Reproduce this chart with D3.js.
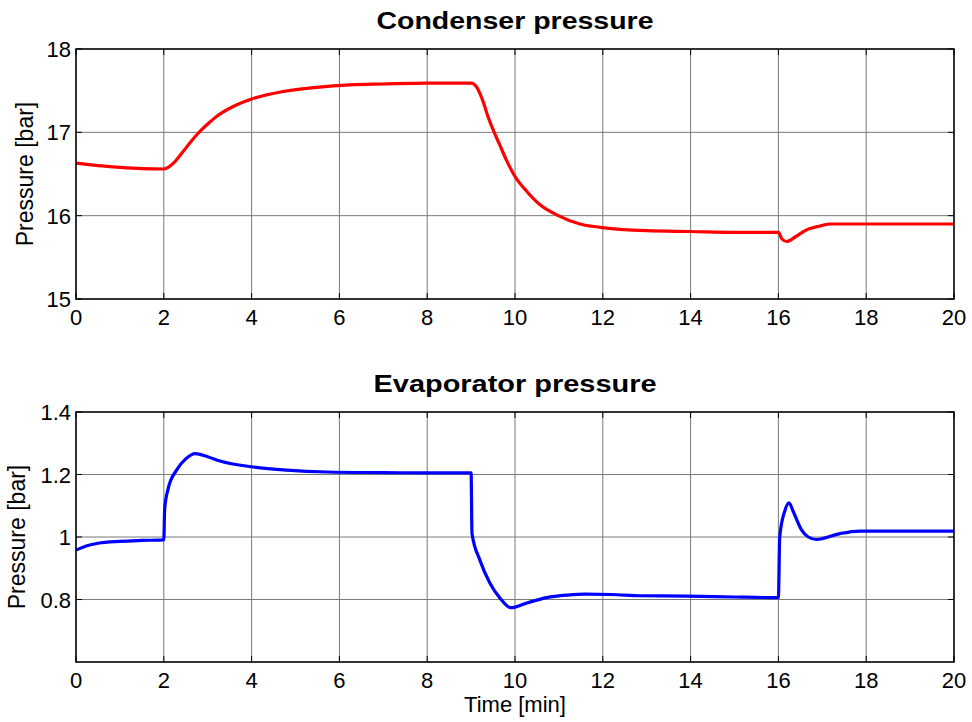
<!DOCTYPE html>
<html>
<head>
<meta charset="utf-8">
<script src="https://cdn.jsdelivr.net/npm/d3@7"></script>
<style>
  body { margin: 0; background: #fff; }
  svg { display: block; font-family: "Liberation Sans", Arial, sans-serif; }
</style>
</head>
<body>
<svg id="chart" width="972" height="722"></svg>
<script>
// condenser pressure [bar] vs time [min]
var condT = [0, 0.5, 1, 1.5, 2, 2.1, 2.22, 2.44, 2.62, 2.82, 3.0, 3.2, 3.58, 4.0, 4.72, 5.48, 6.24, 7, 8, 9,
  9.13, 9.28, 9.39, 9.51, 9.66, 9.81, 10.0, 10.27, 10.57, 10.95, 11.48, 11.94, 13, 14, 15, 16,
  16.08, 16.19, 16.4, 16.64, 16.9, 17.17, 17.5, 18, 19, 20];
var condP = [16.63, 16.60, 16.58, 16.565, 16.56, 16.58, 16.63, 16.77, 16.89, 17.01, 17.10, 17.19, 17.31, 17.40, 17.49, 17.54, 17.57, 17.58, 17.59, 17.59,
  17.54, 17.36, 17.18, 17.02, 16.84, 16.66, 16.47, 16.29, 16.13, 16.01, 15.90, 15.86, 15.82, 15.81, 15.80, 15.80,
  15.72, 15.69, 15.75, 15.83, 15.87, 15.90, 15.90, 15.90, 15.90, 15.90];

// evaporator pressure [bar] vs time [min]
var evapT = [0, 0.25, 0.5, 1, 1.5, 2, 2.02, 2.1, 2.29, 2.5, 2.71, 3.0, 3.28, 4.04, 4.8, 5.71, 7, 8, 9,
  9.02, 9.2, 9.43, 9.66, 9.9, 10.27, 10.72, 11.2, 11.6, 12.2, 12.85, 13.9, 15, 16,
  16.03, 16.15, 16.24, 16.34, 16.53, 16.68, 16.87, 17.4, 17.86, 19, 20];
var evapP = [0.958, 0.972, 0.980, 0.986, 0.989, 0.991, 1.09, 1.155, 1.214, 1.25, 1.267, 1.257, 1.243, 1.224, 1.214, 1.208, 1.206, 1.205, 1.205,
  1.012, 0.926, 0.852, 0.804, 0.774, 0.789, 0.806, 0.814, 0.817, 0.816, 0.812, 0.811, 0.808, 0.806,
  1.0, 1.085, 1.109, 1.081, 1.022, 1.0, 0.992, 1.011, 1.019, 1.019, 1.019];

var xTicks = [0, 2, 4, 6, 8, 10, 12, 14, 16, 18, 20];
var condTicks = [15, 16, 17, 18];
var evapTicks = [0.8, 1, 1.2, 1.4];

var svg = d3.select("#chart");
var x = d3.scaleLinear().domain([0, 20]).range([76, 954]);

function drawPanel(cfg) {
  var y = d3.scaleLinear().domain(cfg.domain).range([cfg.bottom, cfg.top]);
  var g = svg.append("g");
  var x0 = x.range()[0], x1 = x.range()[1];

  // grid
  g.selectAll(".gx").data(xTicks.filter(function (d) { return d > 0 && d < 20; }))
    .enter().append("line")
    .attr("x1", function (d) { return x(d); }).attr("x2", function (d) { return x(d); })
    .attr("y1", cfg.top).attr("y2", cfg.bottom)
    .attr("stroke", "#7a7a7a").attr("stroke-width", 1);
  g.selectAll(".gy").data(cfg.ticks.filter(function (d) { return y(d) > cfg.top + 1 && y(d) < cfg.bottom - 1; }))
    .enter().append("line")
    .attr("x1", x0).attr("x2", x1)
    .attr("y1", function (d) { return y(d); }).attr("y2", function (d) { return y(d); })
    .attr("stroke", "#7a7a7a").attr("stroke-width", 1);

  // data line
  var line = d3.line()
    .x(function (d) { return x(d[0]); })
    .y(function (d) { return y(d[1]); })
    .curve(d3.curveMonotoneX);
  g.append("path")
    .datum(d3.zip(cfg.t, cfg.v))
    .attr("d", line)
    .attr("fill", "none")
    .attr("stroke", cfg.color)
    .attr("stroke-width", 3.2)
    .attr("stroke-linejoin", "round");

  // box
  g.append("rect")
    .attr("x", x0).attr("y", cfg.top)
    .attr("width", x1 - x0).attr("height", cfg.bottom - cfg.top)
    .attr("fill", "none").attr("stroke", "#000").attr("stroke-width", 1.6);

  // inward ticks on all sides
  var tl = 6;
  xTicks.forEach(function (d) {
    g.append("line").attr("x1", x(d)).attr("x2", x(d)).attr("y1", cfg.bottom).attr("y2", cfg.bottom - tl).attr("stroke", "#000");
    g.append("line").attr("x1", x(d)).attr("x2", x(d)).attr("y1", cfg.top).attr("y2", cfg.top + tl).attr("stroke", "#000");
  });
  cfg.ticks.forEach(function (d) {
    g.append("line").attr("x1", x0).attr("x2", x0 + tl).attr("y1", y(d)).attr("y2", y(d)).attr("stroke", "#000");
    g.append("line").attr("x1", x1).attr("x2", x1 - tl).attr("y1", y(d)).attr("y2", y(d)).attr("stroke", "#000");
  });

  // tick labels
  g.selectAll(".xl").data(xTicks).enter().append("text")
    .attr("x", function (d) { return x(d); })
    .attr("y", cfg.bottom + 25.5)
    .attr("text-anchor", "middle")
    .attr("font-size", 22)
    .text(function (d) { return d; });
  g.selectAll(".yl").data(cfg.ticks).enter().append("text")
    .attr("x", x0 - 5)
    .attr("y", function (d) { return y(d) + 8; })
    .attr("text-anchor", "end")
    .attr("font-size", 22)
    .text(function (d) { return d; });

  // title
  g.append("text")
    .attr("x", (x0 + x1) / 2).attr("y", cfg.top - 20)
    .attr("text-anchor", "middle")
    .attr("font-size", 23).attr("font-weight", "bold")
    .attr("textLength", cfg.titleW).attr("lengthAdjust", "spacingAndGlyphs")
    .text(cfg.title);

  // y label
  g.append("text")
    .attr("transform", "translate(" + cfg.labelX + "," + ((cfg.top + cfg.bottom) / 2) + ") rotate(-90)")
    .attr("text-anchor", "middle")
    .attr("font-size", 23)
    .text("Pressure [bar]");
}

drawPanel({ top: 49, bottom: 299, domain: [15, 18], ticks: condTicks, t: condT, v: condP,
  color: "#ff0000", title: "Condenser pressure", titleW: 277, labelX: 33 });
drawPanel({ top: 412, bottom: 662, domain: [0.6, 1.4], ticks: evapTicks, t: evapT, v: evapP,
  color: "#0000ff", title: "Evaporator pressure", titleW: 283, labelX: 25 });

svg.append("text")
  .attr("x", 515).attr("y", 712)
  .attr("text-anchor", "middle")
  .attr("font-size", 22)
  .text("Time [min]");
</script>
</body>
</html>
